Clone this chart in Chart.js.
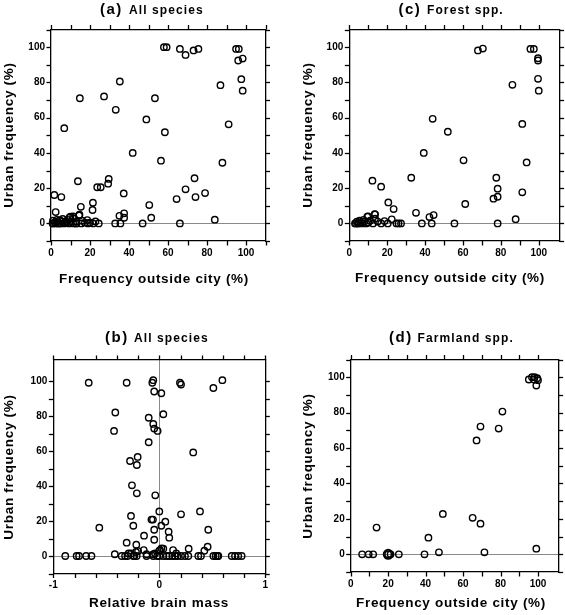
<!DOCTYPE html>
<html><head><meta charset="utf-8">
<script src="https://cdn.jsdelivr.net/npm/chart.js@4.4.0/dist/chart.umd.min.js"></script>
<style>
html,body{margin:0;padding:0;background:#fff;}
#wrap{position:relative;width:565px;height:615px;overflow:hidden;background:#fff;}
canvas{position:absolute;}
</style></head><body>
<div id="wrap">
<canvas id="ca" width="283" height="305" style="left:0px;top:0px"></canvas>
<canvas id="cc" width="282" height="305" style="left:283px;top:0px"></canvas>
<canvas id="cb" width="283" height="310" style="left:0px;top:305px"></canvas>
<canvas id="cd" width="282" height="310" style="left:283px;top:305px"></canvas>
</div>
<script>
// ---------- DATA ----------
// (a) All species: frequency outside city (%) vs urban frequency (%)
const allX = [6.8,14.8,27.2,33.2,35.3,41.9,48.9,53.3,58.4,57.9,59.3,66.1,69,73.1,75.6,86.9,91.1,94.9,96.3,96,98.3,97.6,98.3,56.4,87.9,
  1.7,5.3,2.4,13.8,15.3,21.5,21.3,23.7,25.5,29.6,29.3,37.3,35.1,37.5,37.5,32.9,35.6,47,50.4,51.4,64.4,69,73.6,74.1,79,66.1,84,
  1.2,2.9,4.3,5.6,6.8,8,9.2,10.2,11.4,12.8,10,11.7,14.4,13.1,16,17.4,18.6,20,21.6,22.8,24.5,2,3.5,5,7.5,1,3,4.5,6,8.5,0.8,2.5,9.5,11.3,14.6,13,15.5,19];
const allY = [54,71,72,64.4,80.5,40,59,71,51.7,100,100,99,95.6,98.1,99,78.4,56.2,99,99,92.4,93.5,81.8,75.3,35.6,34.4,
  16.1,14.9,6.4,23.9,9.4,11.7,7.6,20.5,20.5,25.2,22.5,17,4.3,5.7,3.2,0,0,0,10.4,3.2,13.8,19.3,25.6,14.9,17.2,0,2.1,
  0,1,0,1.1,0,0.4,0,1,0,0,3.8,2.8,4.5,1,1.5,0.4,1.9,0.4,0,1.1,0,0.5,0,0,1,1.5,2,1.8,2.5,2,0,0,3.4,3.9,4.9,0,0,0];

// (c) Forest spp.
const forestX = [39.3,44,52,67.9,70.5,86.1,91.3,95.6,97.4,99.6,99.6,99.6,100,60.3,93.6,12.2,16.8,20.6,23.4,32.7,35.2,42.3,44.5,38.3,43.5,55.5,61.2,77.6,78.3,78.3,76.1,78.3,87.8,91.3,
  9.5,13.6,13.6,18.6,22.4,20.3,24.9,27.3,26,16.8,12.5,3,4,5,6,7,8,9,10,11,3.5,4.5,5.5,7.5,15,9.9,13.4];
const forestY = [40,59.3,52,98.1,99.2,78.6,56.4,99,99,92.4,93.7,82,75.3,35.8,34.6,24.2,20.8,11.9,8.1,25.9,6,3.6,4.7,0,0,0,11,25.9,19.7,15.1,14,0,2.4,17.6,
  3.8,5.1,2.7,1.3,2.3,0,0,0,0,0,0,0,1,0,0.5,0,1,0,0.5,1.5,0,0,1.5,2,1,4,5.3];

// (b) All species: relative brain mass vs urban frequency (%)
const brainX = [-0.666,-0.308,-0.057,-0.066,0.195,0.205,0.51,0.595,-0.048,0.019,-0.415,-0.427,-0.1,-0.057,-0.048,-0.016,0.038,-0.1,0.32,
  -0.276,-0.204,-0.212,-0.258,-0.212,-0.038,0,0.205,0.384,-0.267,-0.245,-0.566,-0.074,-0.06,0.057,-0.048,0.019,0.088,0.094,-0.048,-0.144,0.462,
  -0.308,-0.217,0.456,0.277,0.425,0.038,-0.147,-0.22,-0.267,-0.42,-0.12,-0.057,0,0.13,0.007,0.02,-0.29,-0.2,0.16,-0.04,
  -0.887,-0.78,-0.757,-0.69,-0.64,-0.355,-0.323,-0.3,-0.245,-0.236,-0.213,-0.12,-0.057,-0.02,0,0.038,0.07,0.094,0.123,0.148,0.173,0.205,0.242,0.274,0.368,0.393,0.51,0.532,0.55,0.557,0.683,0.714,0.745,0.777];
const brainY = [99,99,100.5,99,99,98,96,100.5,94,93,82,71.5,79,75.5,72.8,71.5,81,65,59.2,
  54.3,56.6,52,40.4,35.8,34.7,25.5,23.8,25.5,22.9,17.3,16.2,20.8,20.8,19.6,15,17.3,13.9,10.5,9.3,11.6,15,
  7.6,6.5,5.3,4.2,3,4.2,3.4,2.3,1.5,1,1,1,3,3.4,3.4,4.4,1.5,2.8,1.5,1.5,
  0,0,0,0,0,0,0,0,0,0,0,0,0,0,0,0,0,0,0,0,0,0,0,0,0,0,0,0,0,0,0,0,0,0];

// (d) Farmland spp.
const farmX = [67.2,69.3,79,81,95.1,96.8,98.2,99.6,100,99.1,97.8,13.8,41.5,49.2,65.1,69.3,99.1,47.1,71.4,39.4,6.1,9.6,12,20,21.3,25.7];
const farmY = [64.3,72.1,71,80.6,98.7,100,100,99.4,98.3,95.3,98.7,15.1,9.4,22.8,20.6,17.3,3.2,1.1,1.1,0,0,0,0,0,0,0];
const farmBigX = [20];
const farmBigY = [0];

// Tick settings
const freqTicks = {min:-10, step:10, labelStep:20};
const brainTicks = {min:-1, max:1, step:0.2, labelStep:1};

// ---------- DRAWING ----------
const FONT = '"Liberation Sans", Arial, Helvetica, sans-serif';
const TICK_LEN = 4.5;
function pts(xs, ys){ return xs.map((x,i)=>({x:x, y:ys[i]})); }
function stepFilter(step){
  return s => { s.ticks = s.ticks.filter(t => Math.abs(t.value/step - Math.round(t.value/step)) < 1e-6); };
}
function axis(pos, min, max, step, labelStep, size, showLabels, gridOnArea){
  const horiz = (pos==='top'||pos==='bottom');
  return {
    type:'linear', position:pos, min:min, max:max,
    afterBuildTicks: stepFilter(step),
    afterFit: s => { if(horiz) s.height = size; else s.width = size; },
    ticks:{ display:true, stepSize:step, autoSkip:false, maxRotation:0, minRotation:0,
      padding:1.5 + TICK_LEN, color: showLabels ? '#000' : 'rgba(0,0,0,0)', font:{family:FONT, weight:'bold', size:10},
      callback: v => { if(!showLabels) return ''; const r = v/labelStep; return Math.abs(r-Math.round(r))<1e-6 ? String(Math.round(v*1000)/1000) : ''; } },
    grid:{ display:true, drawOnChartArea:gridOnArea, drawTicks:false, lineWidth:1,
      color: c => (c.tick && Math.abs(c.tick.value)<1e-9) ? '#8a8a8a' : 'rgba(0,0,0,0)' },
    border:{ display:true, color:'#000', width:1.3 }
  };
}
// draws the outward tick marks of every scale at the scale's own tick positions
const tickPlugin = { id:'tickMarks', afterDraw(chart){
  const c = chart.ctx, a = chart.chartArea;
  c.save(); c.strokeStyle = '#000'; c.lineWidth = 1.3; c.setLineDash([]); c.globalAlpha = 1;
  ['x','x2','y','y2'].forEach(function(id){
    const s = chart.scales[id]; if (!s) return;
    const pos = s.options.position;
    s.ticks.forEach(function(t){
      const p = Math.round(s.getPixelForValue(t.value)) + 0.5;
      c.beginPath();
      if (pos === 'bottom') { c.moveTo(p, a.bottom); c.lineTo(p, a.bottom + TICK_LEN); }
      else if (pos === 'top') { c.moveTo(p, a.top); c.lineTo(p, a.top - TICK_LEN); }
      else if (pos === 'left') { c.moveTo(a.left, p); c.lineTo(a.left - TICK_LEN, p); }
      else { c.moveTo(a.right, p); c.lineTo(a.right + TICK_LEN, p); }
      c.stroke();
    });
  });
  c.restore();
}};
function textPlugin(cfg){
  return { id:'txt', afterDraw(chart){
    const c = chart.ctx; c.save(); c.fillStyle = '#000';
    c.textAlign = 'left'; c.textBaseline = 'alphabetic';
    c.font = 'bold 15px ' + FONT; c.letterSpacing = '1.5px'; c.fillText(cfg.tag, cfg.tagX, cfg.titleY);
    c.font = 'bold 12px ' + FONT; c.letterSpacing = '1.1px'; c.fillText(cfg.title, cfg.titleX, cfg.titleY);
    c.font = 'bold 13.5px ' + FONT; c.letterSpacing = '0.7px'; c.textAlign = 'center'; c.textBaseline = 'middle';
    c.fillText(cfg.xTitle, cfg.xTitleX, cfg.xTitleY);
    c.translate(cfg.yTitleX, cfg.yTitleY); c.rotate(-Math.PI/2); c.textBaseline = 'alphabetic';
    c.fillText(cfg.yTitle, 0, 0);
    c.restore();
  }};
}
function ds(xs, ys, r, bw){
  return { data:pts(xs, ys), pointRadius:r, pointBorderWidth:bw, borderColor:'#000', pointBorderColor:'#000',
    backgroundColor:'rgba(0,0,0,0)', pointBackgroundColor:'rgba(0,0,0,0)', pointStyle:'circle', showLine:false, clip:false };
}
function makeChart(id, datasets, xs, ys, box, cfg){
  new Chart(document.getElementById(id), {
    type:'scatter',
    data:{ datasets:datasets },
    options:{
      responsive:false, animation:false, events:[], layout:{padding:0},
      plugins:{ legend:{display:false}, title:{display:false}, tooltip:{enabled:false} },
      scales:{
        x:  axis('bottom', xs.min, xs.max, xs.step, xs.labelStep, box.B, true, !!xs.zeroLine),
        x2: axis('top',    xs.min, xs.max, xs.step, xs.labelStep, box.T, false, false),
        y:  axis('left',   ys.min, ys.max, ys.step, ys.labelStep, box.L, true, true),
        y2: axis('right',  ys.min, ys.max, ys.step, ys.labelStep, box.R, false, false)
      }
    },
    plugins:[ textPlugin(cfg), tickPlugin ]
  });
}

const yTitle = 'Urban frequency (%)';
const xFreq = 'Frequency outside city (%)';

makeChart('ca', [ds(allX, allY, 3.2, 1.4)],
  {min:0, max:110, step:10, labelStep:20},
  {min:freqTicks.min, max:110, step:freqTicks.step, labelStep:freqTicks.labelStep},
  {L:51, R:17.5, T:29.5, B:64},
  {tag:'(a)', tagX:100, title:'All species', titleX:129, titleY:14,
   xTitle:xFreq, xTitleX:154, xTitleY:279, yTitle:yTitle, yTitleX:13, yTitleY:135});

makeChart('cc', [ds(forestX, forestY, 3.2, 1.4)],
  {min:0, max:111, step:10, labelStep:20},
  {min:freqTicks.min, max:110, step:freqTicks.step, labelStep:freqTicks.labelStep},
  {L:66.3, R:2, T:29.5, B:64},
  {tag:'(c)', tagX:115.5, title:'Forest spp.', titleX:144, titleY:14,
   xTitle:xFreq, xTitleX:167, xTitleY:278, yTitle:yTitle, yTitleX:28.7, yTitleY:135});

makeChart('cb', [ds(brainX, brainY, 3.2, 1.4)],
  {min:brainTicks.min, max:brainTicks.max, step:brainTicks.step, labelStep:brainTicks.labelStep, zeroLine:true},
  {min:freqTicks.min, max:112, step:freqTicks.step, labelStep:freqTicks.labelStep},
  {L:53.3, R:17.7, T:55, B:41.5},
  {tag:'(b)', tagX:105, title:'All species', titleX:134, titleY:36.5,
   xTitle:'Relative brain mass', xTitleX:159, xTitleY:298, yTitle:yTitle, yTitleX:13, yTitleY:162});

makeChart('cd', [ds(farmX, farmY, 3.2, 1.4), ds(farmBigX, farmBigY, 4.5, 1.9)],
  {min:0, max:111, step:10, labelStep:20},
  {min:freqTicks.min, max:110, step:freqTicks.step, labelStep:freqTicks.labelStep},
  {L:67.7, R:2, T:54.5, B:43},
  {tag:'(d)', tagX:106, title:'Farmland spp.', titleX:134.5, titleY:36.5,
   xTitle:xFreq, xTitleX:168, xTitleY:298, yTitle:yTitle, yTitleX:28.7, yTitleY:161});
</script>
</body></html>
